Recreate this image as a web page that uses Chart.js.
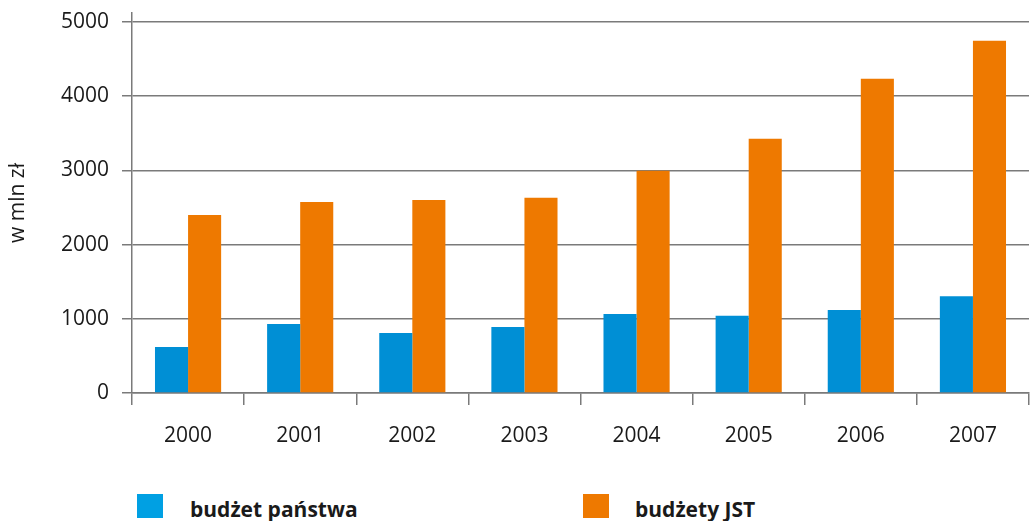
<!DOCTYPE html>
<html>
<head>
<meta charset="utf-8">
<script src="https://cdn.jsdelivr.net/npm/chart.js@4"></script>
<style>
    body { margin: 0; background: #fff; font-family: 'Open Sans', sans-serif; }
    #wrap { position: relative; width: 1031px; height: 521px; overflow: hidden; }
    #chart-box { position: absolute; left: 0; top: 0; width: 1031px; height: 470px; }
    .leg-box { position: absolute; top: 494px; width: 26px; height: 24px; }
    .leg-txt { position: absolute; top: 495px; font-size: 21px; font-weight: 700; color: #1a1a1a; white-space: nowrap; }
</style>
</head>
<body>
<div id="wrap">
    <div id="chart-box"><canvas id="chart-bar"></canvas></div>
    <div class="leg-box" style="left:137px;background:#00a0e3"></div>
    <div class="leg-txt" style="left:190px">budżet państwa</div>
    <div class="leg-box" style="left:583px;background:#ee7900"></div>
    <div class="leg-txt" style="left:635px">budżety JST</div>
</div>
<script>
// ── 資料 ──
const YEARS = ['2000', '2001', '2002', '2003', '2004', '2005', '2006', '2007'];
const BUDZET_PANSTWA = [620, 930, 810, 890, 1065, 1040, 1120, 1305];
const BUDZETY_JST = [2400, 2575, 2600, 2630, 2995, 3425, 4235, 4745];
const Y_TICKS = [0, 1000, 2000, 3000, 4000, 5000];

const AXIS_COLOR = '#7a7a7a';
const FONT = { family: "'Open Sans', sans-serif", size: 21 };

const ctx = document.getElementById('chart-bar').getContext('2d');
new Chart(ctx, {
    type: 'bar',
    data: {
        labels: YEARS,
        datasets: [
            {
                label: 'budżet państwa',
                data: BUDZET_PANSTWA,
                backgroundColor: '#008fd5',
                borderWidth: 0,
            },
            {
                label: 'budżety JST',
                data: BUDZETY_JST,
                backgroundColor: '#ee7900',
                borderWidth: 0,
            },
        ],
    },
    options: {
        responsive: true,
        maintainAspectRatio: false,
        animation: false,
        categoryPercentage: 0.59,
        barPercentage: 1,
        layout: { padding: { top: 13, right: 2, left: 0, bottom: 0 } },
        plugins: {
            legend: { display: false },
            tooltip: { enabled: false },
        },
        scales: {
            x: {
                grid: {
                    offset: true,
                    drawOnChartArea: false,
                    drawTicks: true,
                    tickLength: 12,
                    color: AXIS_COLOR,
                    lineWidth: 1.5,
                },
                border: { color: AXIS_COLOR, width: 1.5 },
                ticks: { color: '#1a1a1a', font: FONT, padding: 18 },
                afterFit: s => { s.height = 77; },
            },
            y: {
                min: 0,
                max: 5120,
                afterBuildTicks: s => { s.ticks = Y_TICKS.map(v => ({ value: v })); },
                grid: {
                    color: AXIS_COLOR,
                    lineWidth: 1.5,
                    tickLength: 10,
                },
                border: { color: AXIS_COLOR, width: 1.5 },
                ticks: { color: '#1a1a1a', font: FONT, padding: 13, callback: v => String(v) },
                title: {
                    display: true,
                    text: 'w mln zł',
                    color: '#1a1a1a',
                    font: { family: "'Open Sans', sans-serif", size: 21 },
                    padding: { top: 5, bottom: 0 },
                },
                afterFit: s => {
                    s.width = 132;
                    s.paddingTop = 0;
                    s.paddingBottom = 0;
                },
            },
        },
    },
});
</script>
</body>
</html>
